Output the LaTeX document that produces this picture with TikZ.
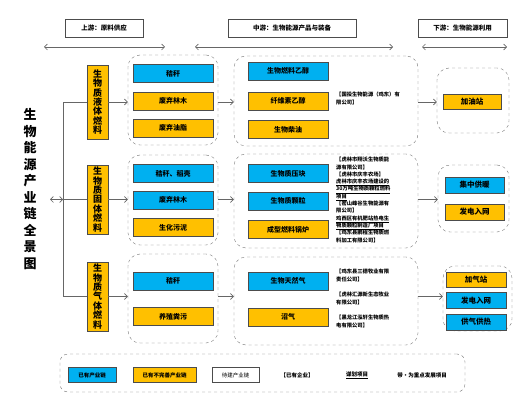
\documentclass[tikz,border=0pt]{standalone}
\usepackage{fontspec}
\setmainfont{Noto Sans CJK SC}
\usepackage{tikz}
\usetikzlibrary{arrows.meta,positioning,calc}
\definecolor{cblue}{HTML}{00B0F0}
\definecolor{corange}{HTML}{FFC000}
\begin{document}
\begin{tikzpicture}[x=1pt, y=-1pt,
    item/.style={draw=black!70, line width=0.8pt, minimum width=80pt, minimum height=18pt, inner sep=0pt, font=\bfseries\fontsize{7}{8}\selectfont},
    have/.style={item, fill=cblue},
    weak/.style={item, fill=corange},
    grp/.style={draw=black!55, dashed, rounded corners=12pt, inner sep=0pt},
    cat/.style={draw=black!70, line width=0.8pt, fill=corange, minimum width=21pt, align=center, inner sep=0pt, font=\bfseries\fontsize{9}{9.4}\selectfont},
    hdr/.style={draw=black!70, line width=0.6pt, minimum height=18pt, inner sep=0pt, font=\bfseries\fontsize{6.5}{8}\selectfont},
    firm/.style={anchor=north west, align=left, inner sep=0pt, font=\bfseries\fontsize{5.3}{7.3}\selectfont},
    arr/.style={-{Straight Barb[length=3pt]}, black!60, line width=0.6pt},
    darr/.style={{Straight Barb[length=3pt]}-{Straight Barb[length=3pt]}, black!60, line width=0.6pt},
    key/.style={draw=black!70, line width=0.8pt, minimum height=15pt, inner sep=0pt, font=\bfseries\fontsize{5.5}{7}\selectfont},
    lbl/.style={inner sep=0pt, font=\bfseries\fontsize{5.5}{7}\selectfont}
]
\useasboundingbox (0,0) rectangle (529,419);

\node[hdr, minimum width=78pt] (H1) at (104,28) {上游：原料供应};
\node[hdr, minimum width=128pt] (H2) at (292,28) {中游：生物能源产品与装备};
\node[hdr, minimum width=89pt] (H3) at (462.5,28) {下游：生物能源利用};
\coordinate (a1) at (44,47); \coordinate (b1) at (165,47);
\coordinate (a2) at (195,47); \coordinate (b2) at (393,47);
\coordinate (a3) at (422,47); \coordinate (b3) at (507,47);
\draw[darr] (a1) -- (b1);
\draw[darr] (a2) -- (b2);
\draw[darr] (a3) -- (b3);

\node[align=center, inner sep=0pt, font=\bfseries\fontsize{13}{16.5}\selectfont] (T) at (30,189) {生\\物\\能\\源\\产\\业\\链\\全\\景\\图};

\node[cat, minimum height=74pt] (C1) at (97.5,102) {生\\物\\质\\液\\体\\燃\\料};
\node[cat, minimum height=69pt] (C2) at (97.5,199.5) {生\\物\\质\\固\\体\\燃\\料};
\node[cat, minimum height=69pt] (C3) at (97.5,296.5) {生\\物\\质\\气\\体\\燃\\料};
\coordinate (k1) at (63,102); \coordinate (k2) at (63,199.5); \coordinate (k3) at (63,296.5);
\coordinate (t0) at (50,199.5);
\draw[black!60, line width=0.6pt] (C1.west) -- (k1) -- (k3) -- (C3.west);
\draw[black!60, line width=0.6pt] (C2.west) -- (k2);
\draw[darr] (t0) -- (k2);

\node[grp, minimum width=90pt, minimum height=90pt] (G1) at (173,100) {};
\node[grp, minimum width=90pt, minimum height=90pt] (G2) at (173,200) {};
\node[grp, minimum width=90pt, minimum height=89pt] (G3) at (173,298.5) {};
\node[have] (R11) at (173,73.5) {秸秆};
\node[weak] (R12) at (173,101) {废弃林木};
\node[weak] (R13) at (173,128) {废弃油脂};
\node[have] (R21) at (173,173.5) {秸秆、稻壳};
\node[have] (R22) at (173,200) {废弃林木};
\node[weak] (R23) at (173,227.5) {生化污泥};
\node[have] (R31) at (173,281) {秸秆};
\node[weak] (R32) at (173,316.5) {养殖粪污};

\node[grp, minimum width=184pt, minimum height=90pt] (M1) at (326,101) {};
\node[grp, minimum width=184pt, minimum height=94pt] (M2) at (326,201) {};
\node[grp, minimum width=184pt, minimum height=88pt] (M3) at (326,301) {};
\node[have] (P11) at (288,71) {生物燃料乙醇};
\node[weak] (P12) at (288,101) {纤维素乙醇};
\node[weak] (P13) at (288,129.5) {生物柴油};
\node[have] (P21) at (288,173.5) {生物质压块};
\node[have] (P22) at (288,201) {生物质颗粒};
\node[weak] (P23) at (288,229.5) {成型燃料锅炉};
\node[have] (P31) at (288,281) {生物天然气};
\node[weak] (P32) at (288,317) {沼气};

\node[firm] (F1) at (336,92) {【国投生物能源（鸡东）有\\限公司】};
\node[firm] (F2) at (336,157) {【虎林市翔沃生物质能\\源有限公司】\\【虎林市庆丰农场】\\\underline{虎林市庆丰农场建设的}\\\underline{30万吨生物质颗粒燃料}\\\underline{项目}\\【密山峰谷生物能源有\\限公司】\\\underline{鸡西区有机肥站热电生}\\\underline{物质颗粒制造厂项目}\\【鸡东县鹏程生物质燃\\料加工有限公司】};
\node[firm] (F3) at (336,269) {【鸡东县三德牧业有限\\责任公司】};
\node[firm] (F4) at (336,292) {【虎林汇源新生态牧业\\有限公司】};
\node[firm] (F5) at (336,315) {【黑龙江泓轩生物质热\\电有限公司】};

\node[grp, minimum width=72pt, minimum height=65pt] (D1) at (473,100.5) {};
\node[grp, minimum width=71pt, minimum height=67pt] (D2) at (473.5,198.5) {};
\node[grp, minimum width=69pt, minimum height=65pt] (D3) at (477.5,298.5) {};
\node[weak, minimum width=58pt, minimum height=15pt, font=\bfseries\fontsize{7.5}{8}\selectfont] (U11) at (472,101.5) {加油站};
\node[have, minimum width=59pt, minimum height=16pt, font=\bfseries\fontsize{7.5}{8}\selectfont] (U21) at (474.5,185) {集中供暖};
\node[weak, minimum width=59pt, minimum height=16pt, font=\bfseries\fontsize{7.5}{8}\selectfont] (U22) at (474.5,212) {发电入网};
\node[weak, minimum width=60pt, minimum height=15pt, font=\bfseries\fontsize{7.5}{8}\selectfont] (U31) at (476,279.5) {加气站};
\node[have, minimum width=60pt, minimum height=16pt, font=\bfseries\fontsize{7.5}{8}\selectfont] (U32) at (476,300.5) {发电入网};
\node[have, minimum width=60pt, minimum height=16pt, font=\bfseries\fontsize{7.5}{8}\selectfont] (U33) at (476,322) {供气供热};

\draw[arr] (C1.east) -- (C1.east -| G1.west);
\draw[arr] (C2.east) -- (C2.east -| G2.west);
\draw[arr] (C3.east) -- (C3.east -| G3.west);
\draw[arr] (G1.east |- C1.east) -- (C1.east -| M1.west);
\draw[arr] (G2.east |- C2.east) -- (C2.east -| M2.west);
\draw[arr] (G3.east |- C3.east) -- (C3.east -| M3.west);
\draw[arr] (M1.east |- C1.east) -- (C1.east -| D1.west);
\draw[arr] (M2.east |- C2.east) -- (C2.east -| D2.west);
\draw[arr] (M3.east |- C3.east) -- (C3.east -| D3.west);

\node[grp, minimum width=405pt, minimum height=38pt, rounded corners=8pt] (L) at (262.5,373) {};
\node[key, fill=cblue, minimum width=48pt] (L1) at (92,375) {已有产业链};
\node[key, fill=corange, minimum width=63pt] (L2) at (164.5,375) {已有不完善产业链};
\node[key, fill=white, minimum width=47pt, font=\fontsize{5.5}{7}\selectfont] (L3) at (235.5,375) {待建产业链};
\node[lbl] (L4) at (297,375) {【已有企业】};
\node[lbl] (L5) at (357,375) {\underline{谋划项目}};
\node[lbl] (L6) at (422,375) {带•为重点发展项目};
\end{tikzpicture}
\end{document}
